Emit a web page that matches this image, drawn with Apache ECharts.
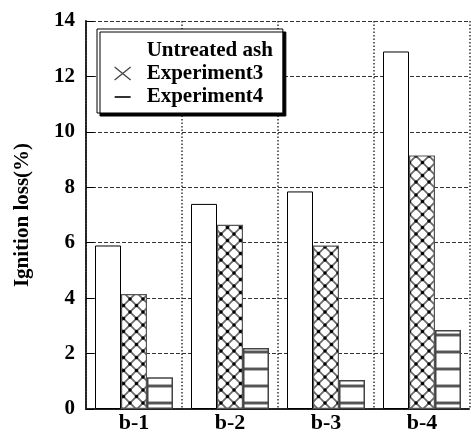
<!DOCTYPE html>
<html>
<head>
<meta charset="utf-8">
<script src="https://cdn.jsdelivr.net/npm/echarts@6/dist/echarts.min.js"></script>
<style>
html,body{margin:0;padding:0;background:#fff;}
#chart{width:471px;height:433px;}
</style>
</head>
<body>
<div id="chart"></div>
<script>
// ---- data ----
var categories = ['b-1', 'b-2', 'b-3', 'b-4'];
var seriesNames = ['Untreated ash', 'Experiment3', 'Experiment4'];
var untreatedAsh = [5.9, 7.4, 7.85, 12.9];
var experiment3 = [4.15, 6.65, 5.9, 9.15];
var experiment4 = [1.15, 2.2, 1.05, 2.85];
var yTicks = [0, 2, 4, 6, 8, 10, 12, 14];

// ---- patterns ----
function crossPattern() {
  var s = 13;
  var c = document.createElement('canvas');
  c.width = s; c.height = s;
  var g = c.getContext('2d');
  g.fillStyle = '#fff'; g.fillRect(0, 0, s, s);
  g.strokeStyle = '#6a6a6a'; g.lineWidth = 1.8;
  g.beginPath();
  g.moveTo(0, 0); g.lineTo(s, s);
  g.moveTo(s, 0); g.lineTo(0, s);
  g.stroke();
  g.fillStyle = '#000';
  var pts = [[s / 2, s / 2], [0, 0], [s, 0], [0, s], [s, s]];
  pts.forEach(function (p) { g.beginPath(); g.arc(p[0], p[1], 1.7, 0, Math.PI * 2); g.fill(); });
  return c;
}
function linePattern() {
  var w = 4, h = 17;
  var c = document.createElement('canvas');
  c.width = w; c.height = h;
  var g = c.getContext('2d');
  g.fillStyle = '#fff'; g.fillRect(0, 0, w, h);
  g.fillStyle = '#b0b0b0'; g.fillRect(0, 10, w, 4);
  g.fillStyle = '#555'; g.fillRect(0, 11, w, 2);
  return c;
}

var FONT = 'Liberation Serif';
var chart = echarts.init(document.getElementById('chart'), null, {renderer: 'canvas'});

var option = {
  animation: false,
  backgroundColor: '#fff',
  grid: {left: 86, right: 1, top: 21, bottom: 24, containLabel: false, outerBoundsMode: 'none'},
  legend: {
    orient: 'vertical',
    left: 97, top: 29,
    padding: [11, 10, 6, 17],
    itemWidth: 16, itemHeight: 13, itemGap: 2,
    backgroundColor: '#fff',
    borderColor: '#000', borderWidth: 1,
    shadowColor: 'rgba(0,0,0,1)', shadowBlur: 0, shadowOffsetX: 3, shadowOffsetY: 3,
    textStyle: {fontFamily: FONT, fontWeight: 'bold', fontSize: 21, color: '#000', lineHeight: 21, padding: [0, 0, 0, 11]},
    data: [
      {name: seriesNames[0], icon: 'rect', itemStyle: {color: 'rgba(255,255,255,0)', borderWidth: 0}},
      {name: seriesNames[1], icon: 'path://M0,0L16,13M16,0L0,13', itemStyle: {color: 'rgba(255,255,255,0)', borderColor: '#444', borderWidth: 1.3}},
      {name: seriesNames[2], icon: 'path://M0,0L0.01,0M0,6L16,6L16,8L0,8ZM16,13L15.99,13', itemStyle: {color: '#333', borderWidth: 0}}
    ]
  },
  xAxis: {
    type: 'category',
    data: categories,
    boundaryGap: true,
    axisLine: {show: true, lineStyle: {color: '#222', width: 2, type: [2, 1]}},
    axisTick: {show: false},
    axisLabel: {fontFamily: FONT, fontWeight: 'bold', fontSize: 22, color: '#000', margin: 3},
    splitLine: {show: true, lineStyle: {color: '#333', width: 1.5, type: [1.5, 2]}}
  },
  yAxis: {
    type: 'value',
    min: yTicks[0], max: yTicks[yTicks.length - 1], interval: 2,
    name: 'Ignition loss(%)',
    nameLocation: 'middle',
    nameGap: 53,
    nameTextStyle: {fontFamily: FONT, fontWeight: 'bold', fontSize: 21, color: '#000'},
    axisLine: {show: true, lineStyle: {color: '#222', width: 2, type: [2, 1]}},
    axisTick: {show: true, inside: true, length: 8, lineStyle: {color: '#000'}},
    axisLabel: {fontFamily: FONT, fontWeight: 'bold', fontSize: 21, color: '#000', margin: 11},
    splitLine: {show: true, lineStyle: {color: '#333', width: 1, type: [4, 2]}}
  },
  series: [
    {
      name: seriesNames[0], type: 'bar', data: untreatedAsh,
      barWidth: 26, barGap: '0%',
      itemStyle: {color: '#fff', borderColor: '#000', borderWidth: 1}
    },
    {
      name: seriesNames[1], type: 'bar', data: experiment3,
      barWidth: 26, barGap: '0%',
      itemStyle: {color: {image: crossPattern(), repeat: 'repeat'}, borderColor: '#555', borderWidth: 1.2}
    },
    {
      name: seriesNames[2], type: 'bar', data: experiment4,
      barWidth: 26, barGap: '0%',
      itemStyle: {color: {image: linePattern(), repeat: 'repeat'}, borderColor: '#444', borderWidth: 1.5}
    }
  ]
};
chart.setOption(option);
</script>
</body>
</html>
